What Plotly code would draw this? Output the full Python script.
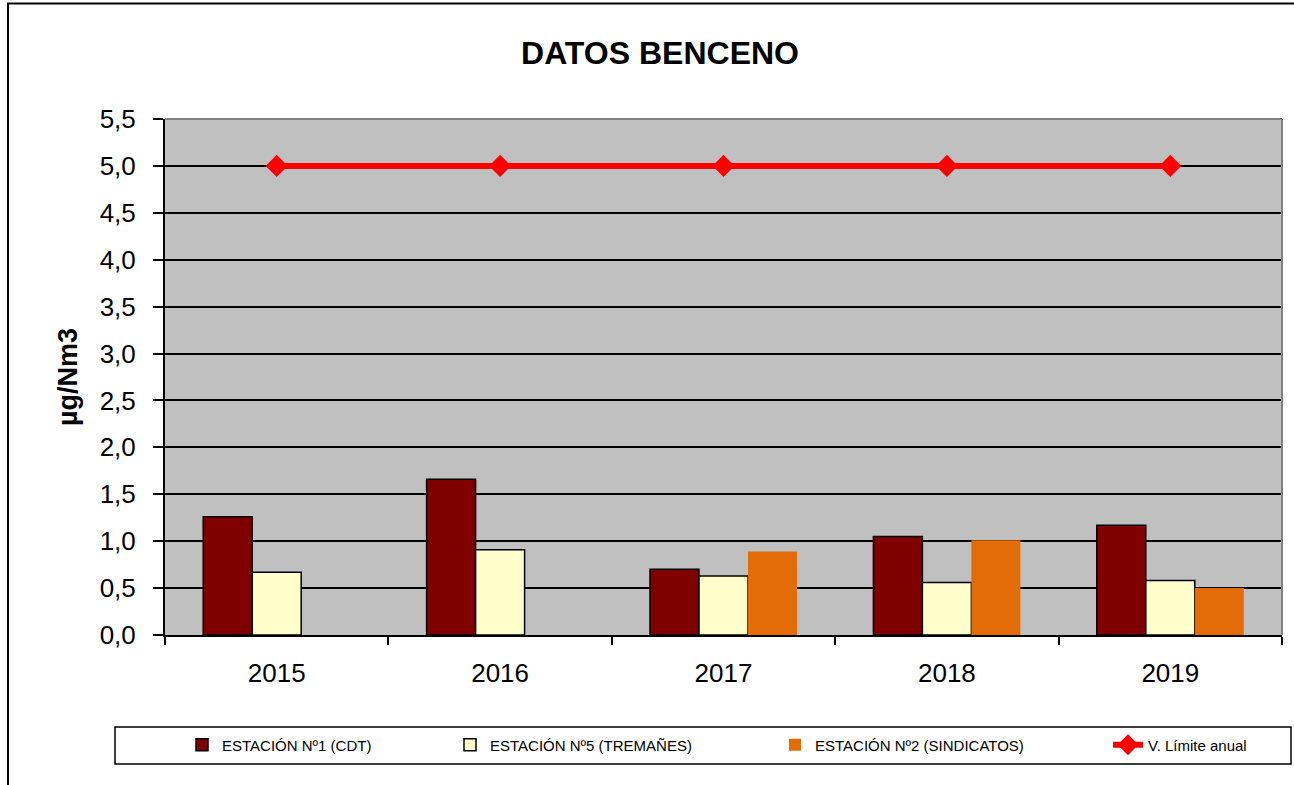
import plotly.graph_objects as go

years = ["2015", "2016", "2017", "2018", "2019"]
est1_cdt = [1.26, 1.66, 0.70, 1.05, 1.17]
est5_tremanes = [0.67, 0.91, 0.63, 0.56, 0.58]
est2_sindicatos = [None, None, 0.89, 1.01, 0.50]
limite_anual = [5.0, 5.0, 5.0, 5.0, 5.0]

names = ["ESTACIÓN Nº1 (CDT)", "ESTACIÓN Nº5 (TREMAÑES)",
         "ESTACIÓN Nº2 (SINDICATOS)", "V. Límite anual"]

W, H = 1294, 785
L, R, T, B = 165, 1282, 119, 635
pw, ph = R - L, B - T

def px2x(px):
    return (px - L) / pw

def py2y(py):
    return (B - py) / ph

fig = go.Figure()
fig.add_trace(go.Bar(x=years, y=est1_cdt, name=names[0], legend="legend",
                     marker=dict(color="#800000", line=dict(color="black", width=1.5))))
fig.add_trace(go.Bar(x=years, y=est5_tremanes, name=names[1], legend="legend2",
                     marker=dict(color="#FFFFCC", line=dict(color="black", width=1.5))))
fig.add_trace(go.Bar(x=years, y=est2_sindicatos, name=names[2], legend="legend3",
                     marker=dict(color="#E36C09", line=dict(width=0))))
fig.add_trace(go.Scatter(x=years, y=limite_anual, name=names[3], legend="legend4",
                         mode="lines+markers",
                         line=dict(color="#FF0000", width=6),
                         marker=dict(symbol="diamond", size=17, color="#FF0000")))

legfont = dict(family="Liberation Sans, Arial", size=15, color="black")
leg_common = dict(orientation="h", yanchor="middle", y=py2y(745), xanchor="left",
                  bgcolor="rgba(0,0,0,0)", borderwidth=0, font=legfont, visible=True)
leg_x = [182, 450, 775, 1108]

fig.update_layout(
    width=W, height=H,
    margin=dict(l=L, r=W - R, t=T, b=H - B),
    paper_bgcolor="white",
    plot_bgcolor="#C0C0C0",
    separators=",.",
    showlegend=True,
    barmode="group",
    bargap=0.342,
    bargroupgap=0,
    font=dict(family="Liberation Sans, Arial", color="black"),
    title=dict(text="<b>DATOS BENCENO</b>", x=660 / W, xref="container", xanchor="center",
               y=1 - 53 / H, yref="container", yanchor="middle",
               font=dict(size=32, family="Liberation Sans, Arial", color="black")),
    legend=dict(x=px2x(leg_x[0]), **leg_common),
    legend2=dict(x=px2x(leg_x[1]), **leg_common),
    legend3=dict(x=px2x(leg_x[2]), **leg_common),
    legend4=dict(x=px2x(leg_x[3]), **leg_common),
    xaxis=dict(type="category", showgrid=False, showline=True, linecolor="black", linewidth=2,
               ticks="outside", tickson="boundaries", ticklen=8, tickwidth=2, tickcolor="black",
               ticklabelstandoff=14,
               tickfont=dict(size=26, color="black"), zeroline=False),
    yaxis=dict(range=[0, 5.5], dtick=0.5, tickformat=".1f", showgrid=True, gridcolor="black",
               gridwidth=2, showline=True, linecolor="black", linewidth=2,
               ticks="outside", ticklen=10, tickwidth=2, tickcolor="black",
               ticklabelstandoff=12,
               tickfont=dict(size=26, color="black"), zeroline=False,
               title=dict(text="<b>µg/Nm3</b>", font=dict(size=27, color="black"), standoff=14)),
    shapes=[
        dict(type="line", xref="paper", yref="paper", x0=0, x1=1, y0=1, y1=1,
             line=dict(color="#808080", width=2)),
        dict(type="line", xref="paper", yref="paper", x0=1, x1=1, y0=0, y1=1,
             line=dict(color="#808080", width=2)),
        dict(type="rect", xref="paper", yref="paper",
             x0=px2x(115), x1=px2x(1291), y0=py2y(764), y1=py2y(727),
             line=dict(color="black", width=1.5), fillcolor="rgba(0,0,0,0)"),
        dict(type="rect", xref="paper", yref="paper",
             x0=px2x(8), x1=px2x(1310), y0=py2y(810), y1=py2y(3.5),
             line=dict(color="black", width=2), fillcolor="rgba(0,0,0,0)"),
    ],
)

fig.write_html("out.html", config={"displayModeBar": False},
               post_script="document.body.style.margin='0px';")
